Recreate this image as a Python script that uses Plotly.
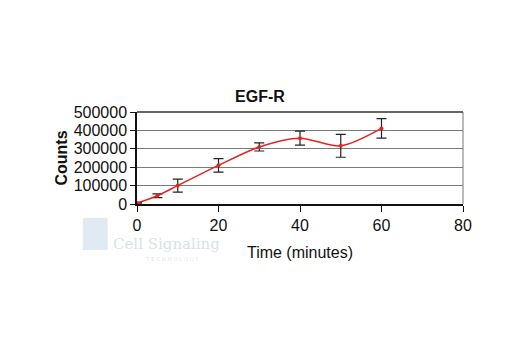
import plotly.graph_objects as go

# EGF-R counts over a time course
time_min = [0, 5, 10, 20, 30, 40, 50, 60]
counts = [5000, 45000, 100000, 210000, 310000, 358000, 316000, 411000]
err = [4000, 10000, 35000, 37000, 22000, 38000, 62000, 53000]

x_ticks = [0, 20, 40, 60, 80]
y_ticks = [0, 100000, 200000, 300000, 400000, 500000]

FONT = "Liberation Sans Narrow, Arial Narrow, Liberation Sans, sans-serif"

fig = go.Figure()
fig.add_trace(go.Scatter(
    x=time_min, y=counts,
    mode="lines+markers",
    line=dict(color="#e8231f", width=1.5, shape="spline", smoothing=0.8),
    marker=dict(color="#e8231f", size=4),
    error_y=dict(type="data", array=err, color="#222222", thickness=1.2, width=5),
    showlegend=False,
))

# faded company watermark, kept clear of the tick labels
WM = "rgba(150,175,200,0.4)"
fig.add_shape(type="rect", xref="paper", yref="paper",
              x0=-0.166, x1=-0.09, y0=-0.5, y1=-0.15,
              fillcolor="rgba(170,195,220,0.35)", line_width=0)
fig.add_annotation(x=-0.08, y=-0.43, xref="paper", yref="paper",
                   text="Cell Signaling", showarrow=False,
                   font=dict(family="DejaVu Serif, serif", size=15, color=WM),
                   xanchor="left", yanchor="middle")
fig.add_annotation(x=0.02, y=-0.6, xref="paper", yref="paper",
                   text="T E C H N O L O G Y", showarrow=False,
                   font=dict(family="DejaVu Serif, serif", size=5, color=WM),
                   xanchor="left", yanchor="middle")

fig.update_layout(
    width=520, height=350,
    margin=dict(l=137, r=57, t=112, b=146),
    paper_bgcolor="white", plot_bgcolor="white",
    font=dict(family=FONT, size=16, color="#111111"),
    title=dict(text="<b>EGF-R</b>", x=0.5, xanchor="center",
               y=1 - 96 / 350, yanchor="middle",
               font=dict(family=FONT, size=16, color="#111111")),
    xaxis=dict(range=[0, 80], tickvals=x_ticks, showgrid=False,
               showline=True, linecolor="#111111", linewidth=1.5,
               ticks="outside", ticklen=6, tickcolor="#111111",
               zeroline=False, mirror=False,
               title=dict(text="Time (minutes)", standoff=14,
                          font=dict(family=FONT, size=16))),
    yaxis=dict(range=[0, 500000], tickvals=y_ticks,
               showgrid=True, gridcolor="#7a7a7a", gridwidth=1,
               showline=True, linecolor="#111111", linewidth=1.5,
               ticks="outside", ticklen=5, tickcolor="#111111",
               zeroline=False, tickformat="d",
               title=dict(text="<b>Counts</b>", standoff=2,
                          font=dict(family=FONT, size=16))),
)

# frame on the right and top of the plot area
fig.add_shape(type="line", xref="paper", yref="paper", x0=1, x1=1, y0=0, y1=1,
              line=dict(color="#777777", width=1))
fig.add_shape(type="line", xref="paper", yref="paper", x0=0, x1=1, y0=1, y1=1,
              line=dict(color="#333333", width=1.5))

fig.write_html("out.html")
